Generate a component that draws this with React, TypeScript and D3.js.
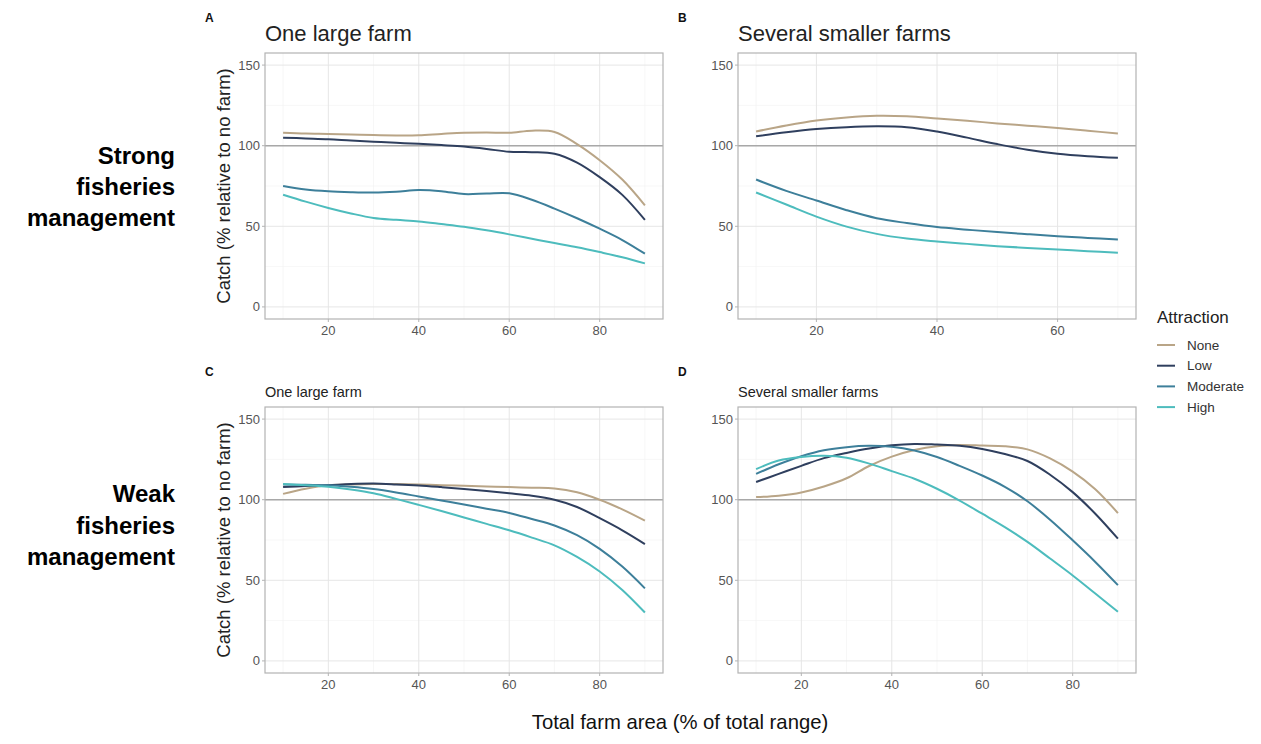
import * as d3 from "d3";

// farm area (% of total range) sampled along each curve
const xLarge = [10, 15, 20, 25, 30, 35, 40, 45, 50, 55, 60, 65, 70, 75, 80, 85, 90];
const xSmall = [10, 15, 20, 25, 30, 35, 40, 45, 50, 55, 60, 65, 70];

const attraction = ["None", "Low", "Moderate", "High"];
const colors = ["#b9a587", "#2f3f5e", "#3d7f9a", "#4dbcbd"];

// A: strong management, one large farm
const aNone = [108, 107.5, 107.3, 107, 106.6, 106.4, 106.5, 107.3, 108, 108.2, 108, 109.3, 108.5, 101, 91, 79, 63];
const aLow = [105, 104.5, 104, 103.2, 102.5, 101.8, 101.2, 100.4, 99.5, 98, 96.2, 96, 95, 89.5, 80.5, 69.5, 54];
const aModerate = [75, 72.8, 71.7, 71.2, 71, 71.5, 72.5, 71.8, 70, 70.3, 70.5, 66.5, 61, 55, 48.5, 41.5, 33];
const aHigh = [69.6, 65.3, 61.4, 58, 55.2, 54, 53, 51.4, 49.7, 47.5, 45, 42.3, 39.6, 37, 34, 30.8, 27];

// B: strong management, several smaller farms
const bNone = [108.8, 112.5, 115.6, 117.5, 118.5, 118.2, 116.9, 115.5, 113.8, 112.4, 111, 109.3, 107.5];
const bLow = [105.8, 108.3, 110.3, 111.5, 112, 111.5, 108.8, 105, 101, 97.5, 95, 93.5, 92.5];
const bModerate = [79, 72, 66, 60, 55, 52, 49.5, 47.9, 46.4, 45.1, 43.9, 42.8, 41.8];
const bHigh = [71, 63.5, 56, 49.8, 45.3, 42.4, 40.6, 39.1, 37.7, 36.6, 35.6, 34.6, 33.6];

// C: weak management, one large farm
const cNone = [103.6, 106.8, 108.9, 109.5, 109.8, 109.7, 109.4, 109, 108.7, 108.2, 107.8, 107.4, 107, 104.6, 100, 94, 87];
const cLow = [107.8, 108.5, 109, 109.7, 110, 109.5, 108.8, 107.8, 106.7, 105.4, 104, 102.5, 100, 95.5, 88.5, 81, 72.5];
const cModerate = [109.4, 109.2, 109, 108, 106.6, 104.5, 102, 99.5, 97, 94.4, 91.8, 88, 84, 78, 69.5, 58.5, 45];
const cHigh = [109.8, 109, 108, 106.3, 104, 100.5, 96.8, 93, 89, 85, 81, 76.5, 71.7, 64.5, 55.5, 44, 30];

// D: weak management, several smaller farms
const dNone = [101.6, 102.5, 104.5, 108.2, 113.3, 120.9, 126.7, 130.8, 133.2, 133.9, 133.6, 133.2, 131.2, 125.6, 117.4, 106.5, 91.7];
const dLow = [111, 116, 121, 125.8, 129, 131.7, 133.7, 134.6, 134.2, 133.5, 131.5, 128.3, 124, 115.5, 104.7, 91.3, 75.8];
const dModerate = [116, 122, 127, 130.7, 132.6, 133.4, 132.8, 130.5, 126.5, 121, 115, 108, 99, 87.6, 74.8, 61.4, 47];
const dHigh = [119, 124.3, 126.5, 127.2, 126, 122.4, 117.7, 113, 106.8, 99.5, 91.3, 83, 73.8, 63.5, 53, 41.8, 30.5];

const yTicks = [0, 50, 100, 150];
const yMinor = [25, 75, 125];

const panels = [
  { tag: "A", title: "One large farm", big: true, x0: 265, y0: 53, xs: xLarge, xDom: [6, 94], series: [aNone, aLow, aModerate, aHigh] },
  { tag: "B", title: "Several smaller farms", big: true, x0: 738, y0: 53, xs: xSmall, xDom: [7, 73], series: [bNone, bLow, bModerate, bHigh] },
  { tag: "C", title: "One large farm", big: false, x0: 265, y0: 407, xs: xLarge, xDom: [6, 94], series: [cNone, cLow, cModerate, cHigh] },
  { tag: "D", title: "Several smaller farms", big: false, x0: 738, y0: 407, xs: xLarge, xDom: [6, 94], series: [dNone, dLow, dModerate, dHigh] },
];

const W = 398;
const H = 266;
const font = "Liberation Sans, Arial, sans-serif";

function Panel({ p }) {
  const x = d3.scaleLinear().domain(p.xDom).range([p.x0, p.x0 + W]);
  const y = d3.scaleLinear().domain([-7.5, 157.5]).range([p.y0 + H, p.y0]);
  const xTicks = x.ticks(4).filter((t) => t % 20 === 0);
  const xMinor = d3.range(10, p.xDom[1], 20);
  const line = d3.line().curve(d3.curveCatmullRom.alpha(0.5));

  return (
    <g>
      {/* grid */}
      {xMinor.map((t) => (
        <line key={"xm" + t} x1={x(t)} x2={x(t)} y1={p.y0} y2={p.y0 + H} stroke="#f2f2f2" strokeWidth={0.6} />
      ))}
      {yMinor.map((t) => (
        <line key={"ym" + t} x1={p.x0} x2={p.x0 + W} y1={y(t)} y2={y(t)} stroke="#f2f2f2" strokeWidth={0.6} />
      ))}
      {xTicks.map((t) => (
        <line key={"x" + t} x1={x(t)} x2={x(t)} y1={p.y0} y2={p.y0 + H} stroke="#e6e6e6" strokeWidth={1} />
      ))}
      {yTicks.map((t) => (
        <line key={"y" + t} x1={p.x0} x2={p.x0 + W} y1={y(t)} y2={y(t)} stroke="#e6e6e6" strokeWidth={1} />
      ))}
      {/* reference line */}
      <line x1={p.x0} x2={p.x0 + W} y1={y(100)} y2={y(100)} stroke="#a8a8a8" strokeWidth={1.5} />
      {p.series.map((vals, i) => (
        <path
          key={attraction[i]}
          d={line(vals.map((v, j) => [x(p.xs[j]), y(v)]))}
          fill="none"
          stroke={colors[i]}
          strokeWidth={2}
        />
      ))}
      <rect x={p.x0} y={p.y0} width={W} height={H} fill="none" stroke="#b3b3b3" strokeWidth={1.2} />
      {/* axes */}
      {yTicks.map((t) => (
        <g key={"yt" + t}>
          <line x1={p.x0 - 3} x2={p.x0} y1={y(t)} y2={y(t)} stroke="#b3b3b3" />
          <text x={p.x0 - 5} y={y(t)} dy="0.35em" textAnchor="end" fontSize={13} fill="#555">
            {t}
          </text>
        </g>
      ))}
      {xTicks.map((t) => (
        <g key={"xt" + t}>
          <line x1={x(t)} x2={x(t)} y1={p.y0 + H} y2={p.y0 + H + 3} stroke="#b3b3b3" />
          <text x={x(t)} y={p.y0 + H + 16} textAnchor="middle" fontSize={13} fill="#555">
            {t}
          </text>
        </g>
      ))}
      <text x={p.x0 - 60} y={p.y0 - 31} fontSize={12} fontWeight="bold" fill="#111">
        {p.tag}
      </text>
      <text x={p.x0} y={p.big ? p.y0 - 12 : p.y0 - 10} fontSize={p.big ? 22 : 14.5} fill="#222">
        {p.title}
      </text>
    </g>
  );
}

export default function App() {
  return (
    <svg width={1261} height={744} style={{ position: "absolute", left: 0, top: 0, background: "#fff" }} fontFamily={font}>
      {panels.map((p) => (
        <Panel key={p.tag} p={p} />
      ))}

      {/* y axis titles */}
      {[53, 407].map((y0) => (
        <text key={y0} transform={`translate(230,${y0 + H / 2}) rotate(-90)`} textAnchor="middle" fontSize={18.5} fill="#222">
          Catch (% relative to no farm)
        </text>
      ))}

      <text x={680} y={729} textAnchor="middle" fontSize={20.3} fill="#111">
        Total farm area (% of total range)
      </text>

      {/* row labels */}
      <text textAnchor="end" fontSize={24} fontWeight="bold" fill="#000">
        <tspan x={175} y={164}>Strong</tspan>
        <tspan x={175} y={195}>fisheries</tspan>
        <tspan x={175} y={226}>management</tspan>
      </text>
      <text textAnchor="end" fontSize={24} fontWeight="bold" fill="#000">
        <tspan x={175} y={502}>Weak</tspan>
        <tspan x={175} y={534}>fisheries</tspan>
        <tspan x={175} y={565}>management</tspan>
      </text>

      {/* legend */}
      <text x={1157} y={323} fontSize={17} fill="#222">Attraction</text>
      {attraction.map((a, i) => (
        <g key={a} transform={`translate(0,${345 + i * 20.7})`}>
          <line x1={1157} x2={1175} y1={0} y2={0} stroke={colors[i]} strokeWidth={2} />
          <text x={1187} y={0} dy="0.35em" fontSize={13.5} fill="#333">
            {a}
          </text>
        </g>
      ))}
    </svg>
  );
}
